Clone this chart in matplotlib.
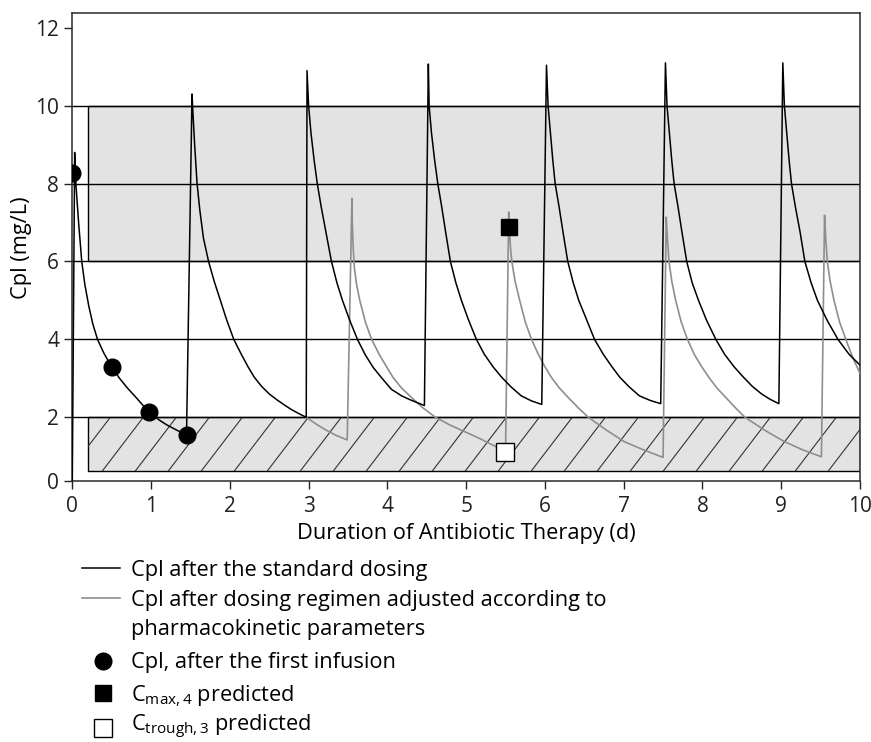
import numpy as np
import matplotlib
matplotlib.use('Agg')
import matplotlib.pyplot as plt
from matplotlib.patches import Rectangle
from matplotlib.lines import Line2D

plt.rcParams['font.family'] = ['Open Sans', 'DejaVu Sans']
plt.rcParams['mathtext.fontset'] = 'custom'
plt.rcParams['mathtext.rm'] = 'Open Sans'
plt.rcParams['mathtext.it'] = 'Open Sans:italic'

# plasma concentration after the standard dosing, one line per infusion
std_t = [0.0, 0.03, 0.045, 0.08, 0.12, 0.16, 0.21, 0.26, 0.32, 0.4, 0.5, 0.6, 0.7, 0.8, 0.9, 0.98, 1.1, 1.2, 1.3, 1.45,
         1.52, 1.527, 1.553, 1.584, 1.62, 1.665, 1.73, 1.8, 1.88, 1.96, 2.05, 2.15, 2.23, 2.31, 2.4, 2.5, 2.59, 2.69, 2.78, 2.88, 2.97,
         2.98, 3.0, 3.03, 3.07, 3.11, 3.16, 3.22, 3.29, 3.36, 3.43, 3.52, 3.62, 3.72, 3.82, 3.92, 4.05, 4.18, 4.3, 4.4, 4.47,
         4.52, 4.53, 4.56, 4.6, 4.64, 4.69, 4.74, 4.8, 4.87, 4.94, 5.03, 5.13, 5.23, 5.34, 5.45, 5.57, 5.7, 5.83, 5.96,
         6.02, 6.04, 6.07, 6.1, 6.13, 6.18, 6.23, 6.29, 6.36, 6.43, 6.53, 6.63, 6.74, 6.85, 6.95, 7.07, 7.2, 7.34, 7.47,
         7.53, 7.55, 7.58, 7.61, 7.64, 7.69, 7.74, 7.8, 7.87, 7.95, 8.05, 8.17, 8.28, 8.4, 8.52, 8.63, 8.75, 8.86, 8.97,
         9.02, 9.04, 9.07, 9.1, 9.13, 9.18, 9.24, 9.3, 9.38, 9.46, 9.58, 9.72, 9.86, 10.0]
std_c = [0.0, 8.8, 8.0, 7.0, 6.0, 5.4, 4.85, 4.4, 4.0, 3.65, 3.29, 3.0, 2.75, 2.53, 2.3, 2.13, 1.92, 1.76, 1.63, 1.44,
         10.3, 10.0, 9.0, 8.0, 7.3, 6.6, 6.0, 5.5, 5.0, 4.5, 4.0, 3.6, 3.3, 3.03, 2.8, 2.6, 2.46, 2.32, 2.2, 2.09, 2.0,
         10.9, 10.0, 9.3, 8.6, 8.0, 7.4, 6.75, 6.0, 5.45, 5.0, 4.5, 4.0, 3.6, 3.28, 3.03, 2.72, 2.55, 2.44, 2.36, 2.3,
         11.07, 10.0, 9.3, 8.6, 8.0, 7.4, 6.75, 6.0, 5.45, 5.0, 4.5, 4.0, 3.62, 3.3, 3.03, 2.78, 2.55, 2.42, 2.33,
         11.04, 10.0, 9.3, 8.6, 8.0, 7.4, 6.75, 6.0, 5.45, 5.0, 4.5, 4.0, 3.62, 3.3, 3.03, 2.78, 2.55, 2.43, 2.35,
         11.1, 10.0, 9.3, 8.6, 8.0, 7.4, 6.75, 6.0, 5.45, 5.0, 4.5, 4.0, 3.62, 3.3, 3.03, 2.8, 2.6, 2.46, 2.35,
         11.1, 10.0, 9.3, 8.6, 8.0, 7.4, 6.75, 6.0, 5.45, 5.0, 4.5, 4.0, 3.62, 3.34]

# plasma concentration after the adjusted dosing regimen
adj_t = [2.97, 3.1, 3.22, 3.35, 3.49,
         3.55, 3.555, 3.565, 3.58, 3.61, 3.65, 3.72, 3.8, 3.9, 3.98, 4.07, 4.18, 4.3, 4.44, 4.61, 4.8, 4.98, 5.15, 5.32, 5.42, 5.5,
         5.54, 5.55, 5.565, 5.58, 5.62, 5.68, 5.75, 5.83, 5.92, 6.0, 6.08, 6.18, 6.29, 6.42, 6.55, 6.78, 7.01, 7.25, 7.5,
         7.54, 7.555, 7.575, 7.61, 7.66, 7.73, 7.81, 7.9, 7.99, 8.08, 8.18, 8.3, 8.42, 8.54, 8.8, 9.03, 9.27, 9.51,
         9.55, 9.565, 9.585, 9.62, 9.67, 9.74, 9.82, 9.91, 10.0]
adj_c = [2.0, 1.78, 1.6, 1.43, 1.29,
         7.62, 7.0, 6.4, 5.85, 5.4, 5.0, 4.45, 4.0, 3.6, 3.33, 3.03, 2.75, 2.52, 2.26, 2.0, 1.75, 1.55, 1.36, 1.15, 1.03, 0.92,
         7.27, 6.8, 6.3, 6.0, 5.5, 5.0, 4.45, 4.0, 3.6, 3.3, 3.03, 2.76, 2.52, 2.25, 2.0, 1.6, 1.23, 0.98, 0.74,
         7.14, 6.6, 6.0, 5.5, 5.0, 4.45, 4.0, 3.6, 3.3, 3.03, 2.76, 2.5, 2.24, 2.0, 1.58, 1.25, 0.98, 0.76,
         7.19, 6.6, 6.0, 5.5, 5.0, 4.45, 4.0, 3.52, 3.13]

# measured after the first infusion
first_t = [0.0, 0.5, 0.98, 1.45]
first_c = [8.26, 3.29, 2.13, 1.44]

cmax_t, cmax_c = [5.55], [6.88]
ctrough_t, ctrough_c = [5.49], [0.9]

# reference ranges
band_x0, band_x1 = 0.2, 10
peak_lo, peak_hi = 6, 10
trough_lo, trough_hi = 0.3, 2
ref_levels = [2, 4, 6, 8, 10]

legend_labels = ['Cpl after the standard dosing',
                 'Cpl after dosing regimen adjusted according to\npharmacokinetic parameters',
                 'Cpl, after the first infusion',
                 r'C$_{\mathrm{max,4}}$ predicted',
                 r'C$_{\mathrm{trough,3}}$ predicted']

W, H = 871, 742
FS_TICK = 15
FS = 15.7
GREY_FILL = '#e3e3e3'
GREY_LINE = '#8e8e8e'

# the 0-2 part of the y axis is drawn compressed in the original
R = 31.9 / 39.0


def fwd(y):
    y = np.asarray(y, float)
    return np.where(y < 2, y * R, 2 * R + (y - 2))


def inv(u):
    u = np.asarray(u, float)
    return np.where(u < 2 * R, u / R, u - 2 * R + 2)


fig = plt.figure(figsize=(W / 100, H / 100), dpi=100)
ax = fig.add_axes([72.3 / W, (H - 481) / H, (860 - 72.3) / W, (481 - 13) / H])
ax.set_yscale('function', functions=(fwd, inv))
ax.set_xlim(0, 10)
ax.set_ylim(0, 12.38)

# shaded target ranges
ax.add_patch(Rectangle((band_x0, peak_lo), band_x1 - band_x0, peak_hi - peak_lo,
                       facecolor=GREY_FILL, edgecolor='black', lw=1.0, zorder=1))
trough_box = Rectangle((band_x0, trough_lo), band_x1 - band_x0, trough_hi - trough_lo,
                       facecolor=GREY_FILL, edgecolor='black', lw=1.0, zorder=1)
ax.add_patch(trough_box)

# wide diagonal hatching inside the trough box
step = 33 / 787.7
run = 468 / 1.31 / 787.7
for x0 in np.arange(-0.6, 1.05, step):
    ln, = ax.plot([x0, x0 + run], [0, 1], transform=ax.transAxes, color='#333333',
                  lw=0.8, zorder=1.5)
    ln.set_clip_path(trough_box.get_path(), trough_box.get_transform())

for lev in ref_levels:
    ax.axhline(lev, color='black', lw=1.0, zorder=2)

ax.plot(adj_t, adj_c, color=GREY_LINE, lw=1.2, zorder=3)
ax.plot(std_t, std_c, color='black', lw=1.1, zorder=4)

ax.plot(first_t, first_c, 'o', color='black', ms=12, zorder=5)
ax.plot(cmax_t, cmax_c, 's', color='black', ms=12, zorder=5)
ax.plot(ctrough_t, ctrough_c, 's', mfc='white', mec='black', mew=1.0, ms=12.5, zorder=5)

ax.set_xticks(range(0, 11))
ax.set_yticks(range(0, 13, 2))
ax.tick_params(direction='out', length=5.5, width=1.0, labelsize=FS_TICK, pad=4,
               colors='#222222')
ax.tick_params(axis='x', pad=5.5)
for sp in ax.spines.values():
    sp.set_linewidth(1.1)
    sp.set_color('#2a2a2a')

fig.text(21.7 / W, 1 - 247.7 / H, 'Cpl (mg/L)', rotation=90, ha='center', va='center',
         fontsize=FS)
fig.text(466 / W, 1 - 533.5 / H, 'Duration of Antibiotic Therapy (d)', ha='center',
         va='center', fontsize=FS)


# legend below the chart, drawn by hand to keep the original row layout
def fx(px):
    return px / W


def fy(py):
    return 1 - py / H


handles = [
    Line2D([fx(81.7), fx(120.3)], [fy(568.3)] * 2, color='black', lw=1.1),
    Line2D([fx(81.7), fx(120.3)], [fy(598.3)] * 2, color=GREY_LINE, lw=1.2),
    Line2D([fx(102.7)], [fy(661)], marker='o', color='black', ms=12, ls='none'),
    Line2D([fx(102.7)], [fy(693.3)], marker='s', color='black', ms=12, ls='none'),
    Line2D([fx(102.7)], [fy(727.5)], marker='s', mfc='white', mec='black', mew=1.0,
           ms=12.5, ls='none'),
]
for h in handles:
    h.set_transform(fig.transFigure)
    fig.add_artist(h)

base_y = [575.7, 606, 668.3, 701, 731]
for lab, by in zip(legend_labels, base_y):
    fig.text(fx(130.7), fy(by), lab.split('\n')[0], ha='left', va='baseline', fontsize=FS)
fig.text(fx(130.7), fy(635), legend_labels[1].split('\n')[1], ha='left', va='baseline',
         fontsize=FS)

fig.savefig('out.png', dpi=100)
